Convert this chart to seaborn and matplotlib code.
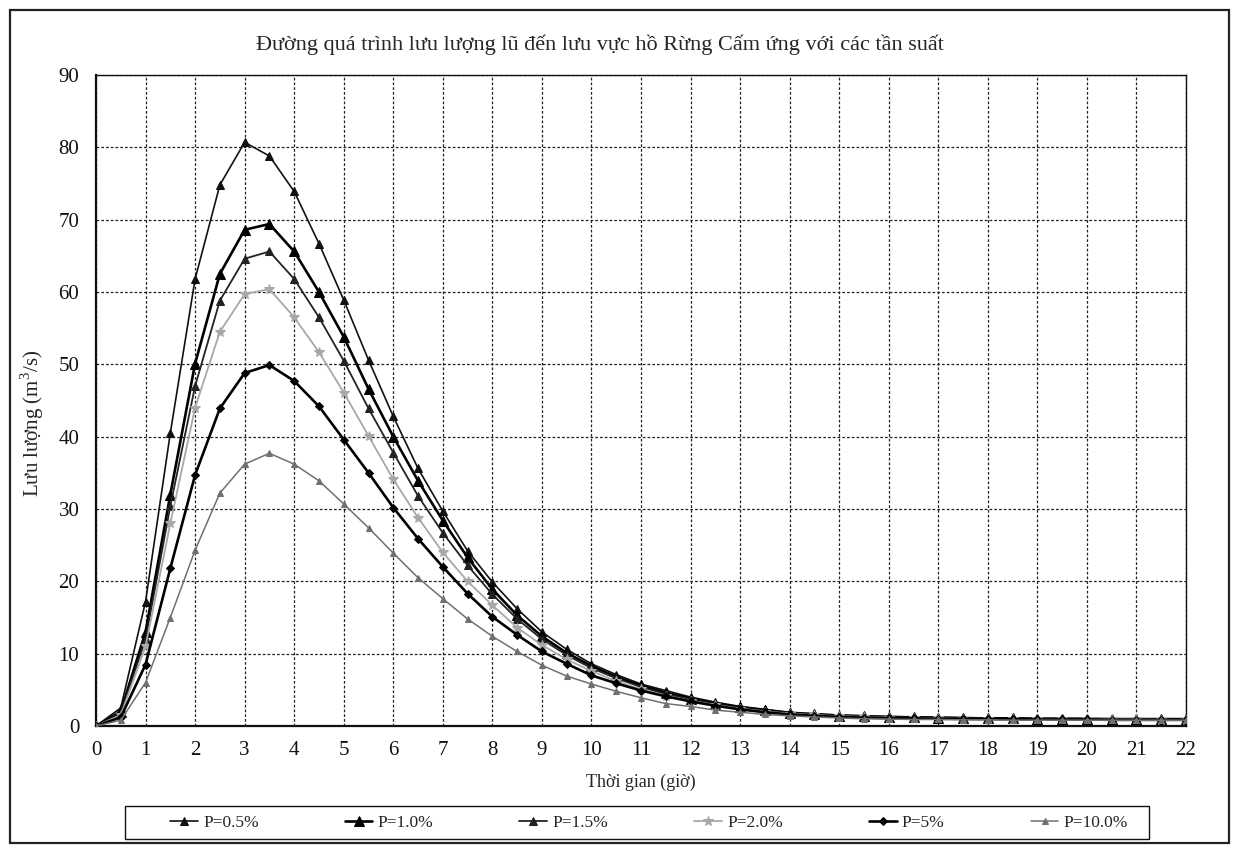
import numpy as np
import pandas as pd
import matplotlib
matplotlib.use("Agg")
import matplotlib.pyplot as plt
from matplotlib.patches import Rectangle
import seaborn as sns

# ---------------- data ----------------
hours = [i * 0.5 for i in range(45)]  # 0 .. 22 step 0.5

p05 = [0, 2.5, 17.2, 40.5, 61.8, 74.8, 80.7, 78.8, 73.9, 66.7,
       58.9, 50.6, 42.8, 35.6, 29.7, 24.2, 19.9, 16.2, 13.0, 10.6,
       8.6, 7.1, 5.8, 4.9, 4.0, 3.3, 2.7, 2.3, 1.9, 1.7,
       1.5, 1.4, 1.3, 1.25, 1.2, 1.15, 1.1, 1.1, 1.05, 1.05,
       1.0, 1.0, 1.0, 1.0, 1.0]
p10 = [0, 2.0, 13.0, 32.0, 50.1, 62.5, 68.6, 69.4, 65.6, 60.0,
       53.8, 46.6, 40.0, 33.9, 28.4, 23.3, 18.9, 15.3, 12.4, 10.1,
       8.3, 6.8, 5.6, 4.6, 3.8, 3.1, 2.6, 2.2, 1.8, 1.6,
       1.45, 1.35, 1.25, 1.2, 1.15, 1.1, 1.05, 1.05, 1.0, 1.0,
       1.0, 0.95, 0.95, 0.95, 0.95]
p15 = [0, 1.8, 12.0, 30.4, 47.0, 58.8, 64.6, 65.6, 61.8, 56.5,
       50.5, 43.9, 37.8, 31.8, 26.7, 22.2, 18.2, 14.8, 12.0, 9.8,
       8.0, 6.6, 5.4, 4.4, 3.7, 3.0, 2.5, 2.1, 1.8, 1.55,
       1.4, 1.3, 1.2, 1.15, 1.1, 1.05, 1.0, 1.0, 1.0, 0.95,
       0.95, 0.95, 0.9, 0.9, 0.9]
p20 = [0, 1.5, 11.0, 28.0, 44.0, 54.5, 59.7, 60.4, 56.5, 51.7,
       46.1, 40.1, 34.1, 28.8, 24.0, 20.0, 16.7, 13.6, 11.2, 9.2,
       7.6, 6.2, 5.1, 4.2, 3.5, 2.9, 2.4, 2.0, 1.7, 1.5,
       1.35, 1.25, 1.15, 1.1, 1.05, 1.0, 1.0, 0.95, 0.95, 0.9,
       0.9, 0.9, 0.9, 0.85, 0.85]
p50 = [0, 1.2, 8.5, 21.8, 34.7, 43.9, 48.8, 49.9, 47.7, 44.2,
       39.6, 35.0, 30.2, 25.9, 22.0, 18.3, 15.1, 12.6, 10.3, 8.6,
       7.0, 5.9, 4.9, 4.1, 3.4, 2.8, 2.3, 1.9, 1.6, 1.4,
       1.25, 1.15, 1.1, 1.05, 1.0, 1.0, 0.95, 0.95, 0.9, 0.9,
       0.9, 0.85, 0.85, 0.85, 0.85]
p100 = [0, 0.8, 6.0, 15.0, 24.3, 32.2, 36.2, 37.7, 36.2, 33.9,
        30.7, 27.4, 23.9, 20.5, 17.6, 14.8, 12.4, 10.3, 8.4, 6.9,
        5.8, 4.8, 3.9, 3.1, 2.7, 2.2, 1.9, 1.6, 1.4, 1.25,
        1.1, 1.0, 0.95, 0.9, 0.9, 0.85, 0.85, 0.8, 0.8, 0.8,
        0.8, 0.8, 0.8, 0.8, 0.8]

labels = ["P=0.5%", "P=1.0%", "P=1.5%", "P=2.0%", "P=5%", "P=10.0%"]
series = [p05, p10, p15, p20, p50, p100]

x_ticks = list(range(0, 23))
y_ticks = list(range(0, 91, 10))

title = "Đường quá trình lưu lượng lũ đến lưu vực hồ Rừng Cấm ứng với các tần suất"
xlabel = "Thời gian (giờ)"
ylabel = "Lưu lượng (m$^3$/s)"

# ---------------- style ----------------
sns.set_theme(style="white")
plt.rcParams["font.family"] = ["Liberation Serif", "DejaVu Serif"]
plt.rcParams["mathtext.fontset"] = "custom"
plt.rcParams["mathtext.rm"] = "Liberation Serif"

styles = {
    "P=0.5%": dict(color="#111111", lw=1.2, marker="^", ms=5.5),
    "P=1.0%": dict(color="#000000", lw=1.9, marker="^", ms=6.5),
    "P=1.5%": dict(color="#222222", lw=1.3, marker="^", ms=5.5),
    "P=2.0%": dict(color="#a8a8a8", lw=1.3, marker="*", ms=7),
    "P=5%": dict(color="#000000", lw=1.9, marker="D", ms=4.5),
    "P=10.0%": dict(color="#707070", lw=1.1, marker="^", ms=5),
}

df = pd.DataFrame({"hours": hours * len(labels),
                   "Q": [v for s in series for v in s],
                   "series": [lab for lab in labels for _ in hours]})

fig = plt.figure(figsize=(12.34, 8.48), dpi=100)
ax = fig.add_axes([96 / 1234, 1 - 726 / 848, (1186 - 96) / 1234, (726 - 75) / 848])

for lab in labels:
    st = styles[lab]
    sub = df[df["series"] == lab]
    sns.lineplot(data=sub, x="hours", y="Q", ax=ax, color=st["color"],
                 linewidth=st["lw"], marker=st["marker"], markersize=st["ms"],
                 markeredgecolor=st["color"], markerfacecolor=st["color"],
                 label=lab, legend=False, zorder=3)

ax.set_xlim(0, 22)
ax.set_ylim(0, 90)
ax.set_xticks(x_ticks)
ax.set_yticks(y_ticks)
ax.tick_params(axis="both", labelsize=15, colors="#111111", length=0)
ax.tick_params(axis="x", pad=11)
ax.tick_params(axis="y", pad=12)
ax.grid(True, color="#222222", linestyle=(0, (2.2, 1.6)), linewidth=0.9, zorder=0)
for sp in ax.spines.values():
    sp.set_visible(True)
    sp.set_color("#111111")
    sp.set_linewidth(1.0)
ax.spines["left"].set_linewidth(1.6)
ax.spines["bottom"].set_linewidth(1.6)

ax.set_xlabel(xlabel, fontsize=13, labelpad=10)
ax.set_ylabel(ylabel, fontsize=15)
ax.yaxis.set_label_coords(-0.046, 0.465)
fig.text(600 / 1234, 1 - 45 / 848, title, ha="center", va="center", fontsize=16)

lines = ax.get_lines()
leg = fig.legend(lines, labels, ncol=6, loc="center",
                 bbox_to_anchor=(170 / 1234, 9 / 848, (1128 - 170) / 1234, 33 / 848),
                 mode="expand", frameon=False, fontsize=12.5,
                 handlelength=1.6, borderaxespad=0, borderpad=0, handletextpad=0.3)

fig.patches.append(Rectangle((125 / 1234, 9 / 848), (1149 - 125) / 1234, 33 / 848,
                             transform=fig.transFigure, fill=False,
                             edgecolor="#111111", linewidth=1.0))
fig.patches.append(Rectangle((10 / 1234, 5 / 848), (1229 - 10) / 1234, (838 - 5) / 848,
                             transform=fig.transFigure, fill=False,
                             edgecolor="#222222", linewidth=1.6))

fig.savefig("out.png", dpi=100)
